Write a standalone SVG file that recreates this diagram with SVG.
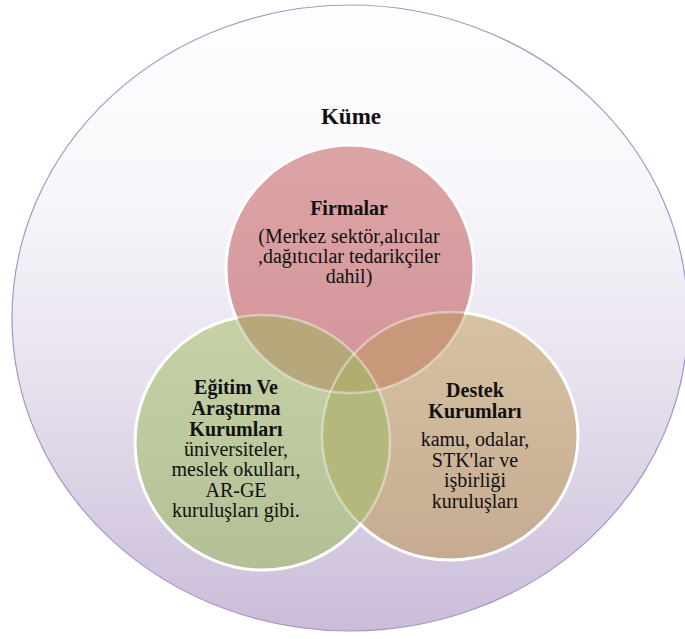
<svg xmlns="http://www.w3.org/2000/svg" width="685" height="639" viewBox="0 0 685 639">
  <defs>
    <linearGradient id="gOuter" x1="0" y1="0" x2="0" y2="1">
      <stop offset="0" stop-color="#fefeff"/>
      <stop offset="0.3" stop-color="#f8f6fa"/>
      <stop offset="0.6" stop-color="#e7e1ee"/>
      <stop offset="1" stop-color="#cbbcd9"/>
    </linearGradient>
    <linearGradient id="gRed" x1="0" y1="0" x2="0" y2="1">
      <stop offset="0" stop-color="#dca4a5"/>
      <stop offset="1" stop-color="#d3959a"/>
    </linearGradient>
    <linearGradient id="gGreen" x1="0" y1="0" x2="0" y2="1">
      <stop offset="0" stop-color="#c6d2a6"/>
      <stop offset="1" stop-color="#b3bf95"/>
    </linearGradient>
    <linearGradient id="gTan" x1="0" y1="0" x2="0" y2="1">
      <stop offset="0" stop-color="#d7c2a2"/>
      <stop offset="1" stop-color="#c6ab92"/>
    </linearGradient>
    <clipPath id="cRed"><circle cx="350" cy="269" r="124"/></clipPath>
    <clipPath id="cGreen"><circle cx="262.5" cy="442.5" r="127.5"/></clipPath>
    <clipPath id="cNotRedOthers"><circle cx="262.5" cy="442.5" r="126"/><ellipse cx="450" cy="436" rx="126.5" ry="122.5"/></clipPath>
    <clipPath id="cNotGreenOthers"><circle cx="350" cy="269" r="122.5"/><ellipse cx="450" cy="436" rx="126.5" ry="122.5"/></clipPath>
    <clipPath id="cNotTanOthers"><circle cx="350" cy="269" r="122.5"/><circle cx="262.5" cy="442.5" r="126"/></clipPath>
    <mask id="mRed" maskUnits="userSpaceOnUse" x="0" y="0" width="685" height="639">
      <rect width="685" height="639" fill="#fff"/>
      <circle cx="262.5" cy="442.5" r="126" fill="#000"/>
      <ellipse cx="450" cy="436" rx="126.5" ry="122.5" fill="#000"/>
    </mask>
    <mask id="mGreen" maskUnits="userSpaceOnUse" x="0" y="0" width="685" height="639">
      <rect width="685" height="639" fill="#fff"/>
      <circle cx="350" cy="269" r="122.5" fill="#000"/>
      <ellipse cx="450" cy="436" rx="126.5" ry="122.5" fill="#000"/>
    </mask>
    <mask id="mTan" maskUnits="userSpaceOnUse" x="0" y="0" width="685" height="639">
      <rect width="685" height="639" fill="#fff"/>
      <circle cx="350" cy="269" r="122.5" fill="#000"/>
      <circle cx="262.5" cy="442.5" r="126" fill="#000"/>
    </mask>
  </defs>
  <style>
    text { font-family: "Liberation Serif", "Times New Roman", Times, "DejaVu Serif", serif; fill: #111; text-anchor: middle; }
    .h { font-weight: bold; font-size: 20px; }
    .b { font-size: 20px; }
    .ring { fill: none; stroke: #ffffff; stroke-width: 3; }
    .inner { fill: none; stroke: #ffffff; stroke-opacity: 0.4; stroke-width: 2.5; }
  </style>

  <g id="kume">
    <ellipse cx="350" cy="318" rx="338" ry="313" fill="url(#gOuter)" stroke="#a497c6" stroke-width="1.2"/>
    <text x="351" y="124" font-weight="bold" font-size="23" font-family="Liberation Serif, serif">Küme</text>
  </g>

  <g id="shapes">
    <circle cx="350" cy="269" r="124" fill="url(#gRed)"/>
    <circle cx="262.5" cy="442.5" r="127.5" fill="url(#gGreen)"/>
    <ellipse cx="450" cy="436" rx="128" ry="124" fill="url(#gTan)"/>
    <circle cx="262.5" cy="442.5" r="127.5" fill="#b7a87b" clip-path="url(#cRed)"/>
    <ellipse cx="450" cy="436" rx="128" ry="124" fill="#c9987a" clip-path="url(#cRed)"/>
    <ellipse cx="450" cy="436" rx="128" ry="124" fill="#b4b87c" clip-path="url(#cGreen)"/>
    <g clip-path="url(#cGreen)">
      <ellipse cx="450" cy="436" rx="128" ry="124" fill="#b1ac70" clip-path="url(#cRed)"/>
    </g>
    <circle class="ring" cx="350" cy="269" r="124" mask="url(#mRed)"/>
    <circle class="ring" cx="262.5" cy="442.5" r="127.5" mask="url(#mGreen)"/>
    <ellipse class="ring" cx="450" cy="436" rx="128" ry="124" mask="url(#mTan)"/>
    <circle class="inner" cx="350" cy="269" r="124" clip-path="url(#cNotRedOthers)"/>
    <circle class="inner" cx="262.5" cy="442.5" r="127.5" clip-path="url(#cNotGreenOthers)"/>
    <ellipse class="inner" cx="450" cy="436" rx="128" ry="124" clip-path="url(#cNotTanOthers)"/>
  </g>

  <g id="firmalar">
    <text class="h" x="349" y="215">Firmalar</text>
    <text class="b" x="349" y="243">(Merkez sektör,alıcılar</text>
    <text class="b" x="349" y="263">,dağıtıcılar tedarikçiler</text>
    <text class="b" x="349" y="283">dahil)</text>
  </g>

  <g id="egitim">
    <text class="h" x="236" y="394">Eğitim Ve</text>
    <text class="h" x="236" y="415">Araştırma</text>
    <text class="h" x="236" y="436">Kurumları</text>
    <text class="b" x="236" y="456">üniversiteler,</text>
    <text class="b" x="236" y="476">meslek okulları,</text>
    <text class="b" x="236" y="497">AR-GE</text>
    <text class="b" x="236" y="517">kuruluşları gibi.</text>
  </g>

  <g id="destek">
    <text class="h" x="475" y="397">Destek</text>
    <text class="h" x="475" y="418">Kurumları</text>
    <text class="b" x="475" y="446">kamu, odalar,</text>
    <text class="b" x="475" y="466.5">STK'lar ve</text>
    <text class="b" x="475" y="487">işbirliği</text>
    <text class="b" x="475" y="507.5">kuruluşları</text>
  </g>

  <g id="connectors"/>
</svg>
